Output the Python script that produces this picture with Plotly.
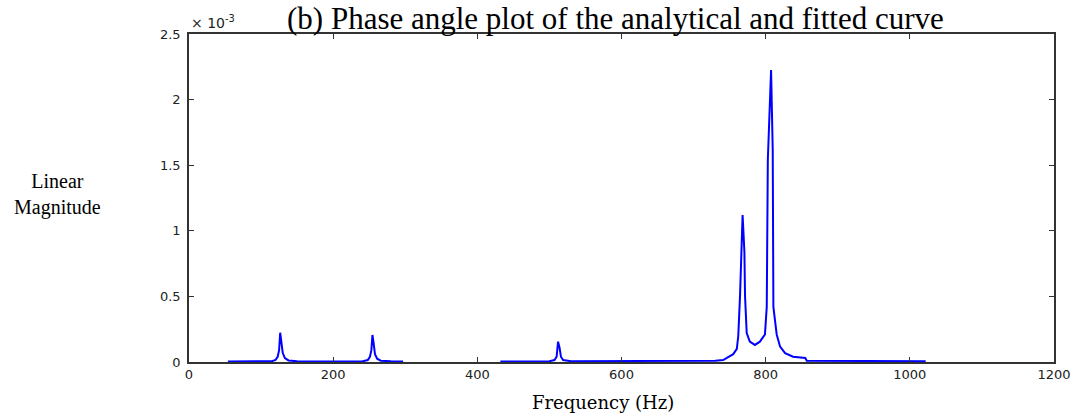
import plotly.graph_objects as go

# Frequency (Hz) and linear magnitude (in units of 1e-3); None separates the three traced segments
freq_hz = [
    54, 115, 120, 123, 125, 126.5, 128, 130, 133, 138, 150,
    240, 248, 251, 253, 254.5, 256, 258, 261, 266, 280, 297,
    None,
    432, 500, 507, 510, 512, 514, 516, 519, 530, 650, 730, 741, 750, 755, 760, 762,
    764.4, 768, 770.5, 771.4, 773.7, 778, 785, 792, 799, 801.5, 803, 807.5,
    809.8, 810.7, 815.3, 820, 827, 838, 855, 857, 1022,
]
magnitude_e3 = [
    0.003, 0.006, 0.015, 0.04, 0.09, 0.223, 0.16, 0.07, 0.03, 0.012, 0.005,
    0.004, 0.015, 0.04, 0.09, 0.206, 0.15, 0.06, 0.025, 0.01, 0.005, 0.004,
    None,
    0.003, 0.006, 0.015, 0.04, 0.155, 0.11, 0.04, 0.015, 0.006, 0.006, 0.01, 0.015, 0.04, 0.06, 0.1, 0.2,
    0.5, 1.12, 0.84, 0.5, 0.22, 0.155, 0.13, 0.155, 0.21, 0.42, 1.54, 2.226,
    1.616, 0.42, 0.21, 0.117, 0.068, 0.04, 0.03, 0.01, 0.005,
]

x_ticks = [0, 200, 400, 600, 800, 1000, 1200]
y_ticks = [0, 0.5, 1, 1.5, 2, 2.5]
y_tick_labels = ["0", "0.5", "1", "1.5", "2", "2.5"]

title_text = "(b) Phase angle plot of the analytical and fitted curve"
x_title = "Frequency (Hz)"
y_title = "Linear<br>Magnitude"

fig = go.Figure()
fig.add_trace(go.Scatter(
    x=freq_hz, y=magnitude_e3, mode="lines",
    line=dict(color="rgb(0,0,255)", width=2),
    connectgaps=False, hoverinfo="skip",
))

axis_common = dict(
    showgrid=False, zeroline=False,
    showline=True, linecolor="#333333", linewidth=1.5,
    mirror="ticks", ticks="inside", ticklen=5, tickwidth=1.2, tickcolor="#333333",
    tickfont=dict(family="DejaVu Sans", size=13, color="#222222"),
)

fig.update_layout(
    width=1084, height=419,
    margin=dict(l=189, r=30, t=34, b=57),
    paper_bgcolor="white", plot_bgcolor="white",
    showlegend=False,
    xaxis=dict(range=[0, 1200], tickvals=x_ticks, **axis_common),
    yaxis=dict(range=[0, 2.5], tickvals=y_ticks, ticktext=y_tick_labels,
               ticklabelstandoff=4, **axis_common),
    annotations=[
        dict(text=title_text, xref="paper", yref="paper", x=0.4925, y=1.1037,
             xanchor="center", yanchor="top", showarrow=False, borderpad=0,
             font=dict(family="Liberation Serif", size=31, color="black")),
        dict(text="× 10<sup>-3</sup>", xref="paper", yref="paper", x=0.0, y=1.0,
             xanchor="left", yanchor="bottom", showarrow=False, yshift=1,
             font=dict(family="DejaVu Sans", size=14, color="#222222")),
        dict(text=x_title, xref="paper", yref="paper", x=0.479, y=-0.122,
             xanchor="center", yanchor="middle", showarrow=False,
             font=dict(family="DejaVu Serif", size=18, color="black")),
        dict(text=y_title, xref="paper", yref="paper", x=-0.1526, y=0.512,
             xanchor="center", yanchor="middle", showarrow=False,
             font=dict(family="Liberation Serif", size=20, color="black")),
    ],
)

fig.write_html("out.html", config={"displayModeBar": False},
               post_script="document.body.style.margin='0';")
